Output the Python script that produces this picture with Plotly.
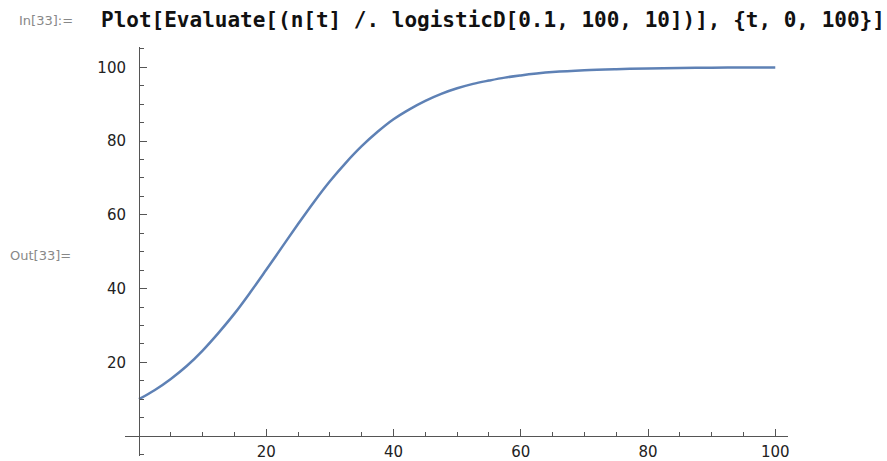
import plotly.graph_objects as go

# values
t_vals = [0, 2.5, 5, 7.5, 10, 12.5, 15, 17.5, 20, 22.5, 25, 27.5, 30, 32.5, 35, 37.5, 40,
          42.5, 45, 47.5, 50, 52.5, 55, 57.5, 60, 62.5, 65, 70, 75, 80, 85, 90, 95, 100]
n_vals = [10.0, 12.5, 15.5, 19.0, 23.2, 28.0, 33.2, 39.0, 45.1, 51.3, 57.5, 63.5, 69.1, 74.1,
          78.6, 82.5, 85.9, 88.6, 90.9, 92.8, 94.3, 95.5, 96.4, 97.2, 97.8, 98.3,
          98.7, 99.2, 99.5, 99.7, 99.8, 99.9, 99.93, 99.96]
x_ticks = [20, 40, 60, 80, 100]
y_ticks = [20, 40, 60, 80, 100]

W, H = 887, 461
fig = go.Figure()
fig.add_trace(go.Scatter(x=t_vals, y=n_vals, mode="lines",
                         line=dict(color="#5E81B5", width=2.5, shape="spline", smoothing=1.0),
                         hoverinfo="skip", showlegend=False))

axis_col = "#555555"
tick_font = dict(family="DejaVu Sans", size=15, color="#222222")

fig.update_layout(
    width=W, height=H,
    margin=dict(l=0, r=0, t=0, b=0),
    paper_bgcolor="white", plot_bgcolor="white",
    xaxis=dict(
        domain=[125 / W, 788 / W], range=[-2.2, 102.0],
        anchor="free", position=1 - 436 / H, automargin=False,
        showgrid=False, zeroline=False, showline=True, linecolor=axis_col, linewidth=1,
        tickmode="array", tickvals=x_ticks, ticks="inside", ticklen=7, tickcolor=axis_col,
        tickfont=tick_font, ticklabelstandoff=2,
        minor=dict(dtick=5, tick0=0, ticks="inside", ticklen=4, tickcolor=axis_col, showgrid=False),
    ),
    yaxis=dict(
        domain=[1 - 456 / H, 1 - 47 / H], range=[-5.4, 105.5],
        anchor="free", position=139 / W, automargin=False,
        showgrid=False, zeroline=False, showline=True, linecolor=axis_col, linewidth=1,
        tickmode="array", tickvals=y_ticks, ticks="inside", ticklen=7, tickcolor=axis_col,
        tickfont=tick_font, ticklabelstandoff=10,
        minor=dict(dtick=5, tick0=0, ticks="inside", ticklen=4, tickcolor=axis_col, showgrid=False),
    ),
)

fig.add_annotation(text="<b>Plot[Evaluate[(n[t] /. logisticD[0.1, 100, 10])], {t, 0, 100}]</b>",
                   xref="paper", yref="paper", x=99 / W, y=1 - 20 / H,
                   xanchor="left", yanchor="middle", showarrow=False,
                   font=dict(family="DejaVu Sans Mono", size=21, color="#111111"))
fig.add_annotation(text="In[33]:=", xref="paper", yref="paper", x=17 / W, y=1 - 21 / H,
                   xanchor="left", yanchor="middle", showarrow=False,
                   font=dict(family="DejaVu Sans", size=13, color="#888888"))
fig.add_annotation(text="Out[33]=", xref="paper", yref="paper", x=8 / W, y=1 - 255 / H,
                   xanchor="left", yanchor="middle", showarrow=False,
                   font=dict(family="DejaVu Sans", size=13, color="#888888"))

fig.write_html("out.html")
